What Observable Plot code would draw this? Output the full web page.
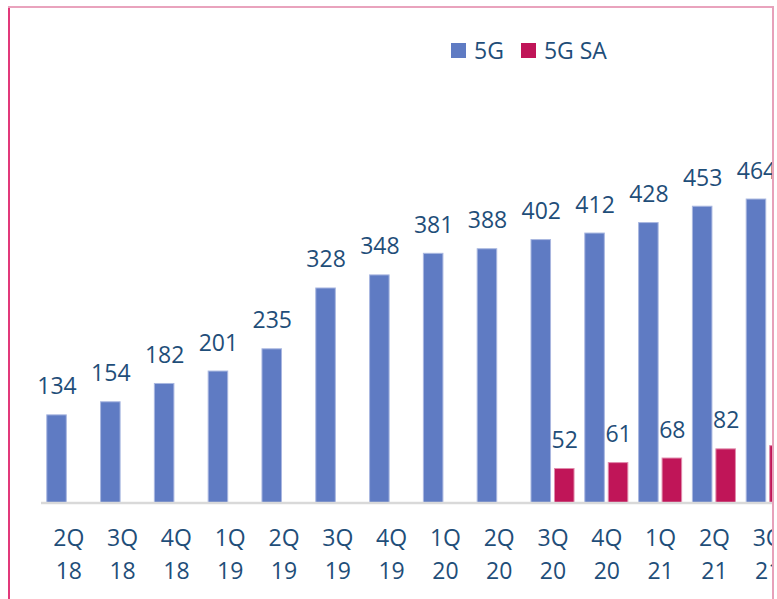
<!DOCTYPE html>
<html>
<head>
<meta charset="utf-8">
<script src="https://cdn.jsdelivr.net/npm/d3@7"></script>
<script src="https://cdn.jsdelivr.net/npm/@observablehq/plot@0.6"></script>
<style>
  html, body { margin: 0; padding: 0; background: #fff; }
  body { width: 777px; height: 599px; overflow: hidden; position: relative; font-family: "Open Sans", sans-serif; }
  #clip { position: absolute; left: 0; top: 0; width: 772px; height: 599px; overflow: hidden; }
  #clip svg { position: absolute; left: 0; top: 0; max-width: none !important; }
  .bd { position: absolute; }
  #legend { position: absolute; left: 451px; top: 34px; display: flex; align-items: center; font-size: 23px; color: #1f4e79; }
  #legend .sw { width: 15px; height: 15px; display: inline-block; margin-right: 8px; }
  #legend .it { display: flex; align-items: center; margin-right: 17px; }
</style>
</head>
<body>
<div id="clip"></div>
<div id="legend"></div>
<div class="bd" style="left:8px;top:6px;width:2px;height:593px;background:#e2397a"></div>
<div class="bd" style="left:8px;top:6px;width:765px;height:2px;background:#e9a3bd"></div>
<div class="bd" style="left:772px;top:6px;width:2px;height:593px;background:#e7a1ba"></div>
<script>
const quarters = ["2Q 18","3Q 18","4Q 18","1Q 19","2Q 19","3Q 19","4Q 19","1Q 20","2Q 20","3Q 20","4Q 20","1Q 21","2Q 21","3Q 21"];
const values5G = [134,154,182,201,235,328,348,381,388,402,412,428,453,464];
const valuesSA = [null,null,null,null,null,null,null,null,null,52,61,68,82,87];
const seriesNames = ["5G","5G SA"];
const seriesColors = ["#5f7bc3","#c01558"];
const textColor = "#1f4e79";

const d5g = quarters.map((q,i) => ({q, v: values5G[i]}));
const dsa = quarters.map((q,i) => ({q, v: valuesSA[i]})).filter(d => d.v != null);
// the last SA label lies outside the cropped view in the reference
const dsaLabels = dsa.filter(d => d.q !== "3Q 21");

const chart = Plot.plot({
  width: 800,
  height: 599,
  marginLeft: 36,
  marginRight: 0,
  marginTop: 80,
  marginBottom: 96.5,
  style: {fontFamily: "Open Sans", fontSize: "23px", color: textColor, background: "transparent", overflow: "visible", maxWidth: "none"},
  x: {domain: quarters, padding: 0.2, align: 0.5, round: false},
  y: {domain: [0, 646], axis: null},
  marks: [
    Plot.barY(d5g, {x: "q", y: "v", fill: seriesColors[0], stroke: "#a9b7e0", strokeWidth: 1, insetRight: 23.5}),
    Plot.barY(dsa, {x: "q", y: "v", fill: seriesColors[1], stroke: "#e08aab", strokeWidth: 1, insetLeft: 23.5}),
    Plot.ruleY([0], {stroke: "#d9d9d9", strokeWidth: 2.5, insetLeft: 5}),
    Plot.text(d5g, {x: "q", y: "v", text: d => String(d.v), dx: -11.75, dy: -21, lineAnchor: "bottom", fill: textColor, fontSize: 23}),
    Plot.text(dsaLabels, {x: "q", y: "v", text: d => String(d.v), dx: 11.75, dy: -21, lineAnchor: "bottom", fill: textColor, fontSize: 23}),
    Plot.axisX({tickSize: 0, tickPadding: 19, tickFormat: d => d.replace(" ", "\n"), fontSize: 23, lineHeight: 1.45, fill: textColor, label: null})
  ]
});
document.getElementById("clip").appendChild(chart);

const legend = document.getElementById("legend");
seriesNames.forEach((n, i) => {
  const it = document.createElement("div");
  it.className = "it";
  const sw = document.createElement("span");
  sw.className = "sw";
  sw.style.background = seriesColors[i];
  const t = document.createElement("span");
  t.textContent = n;
  it.appendChild(sw);
  it.appendChild(t);
  legend.appendChild(it);
});
</script>
</body>
</html>
